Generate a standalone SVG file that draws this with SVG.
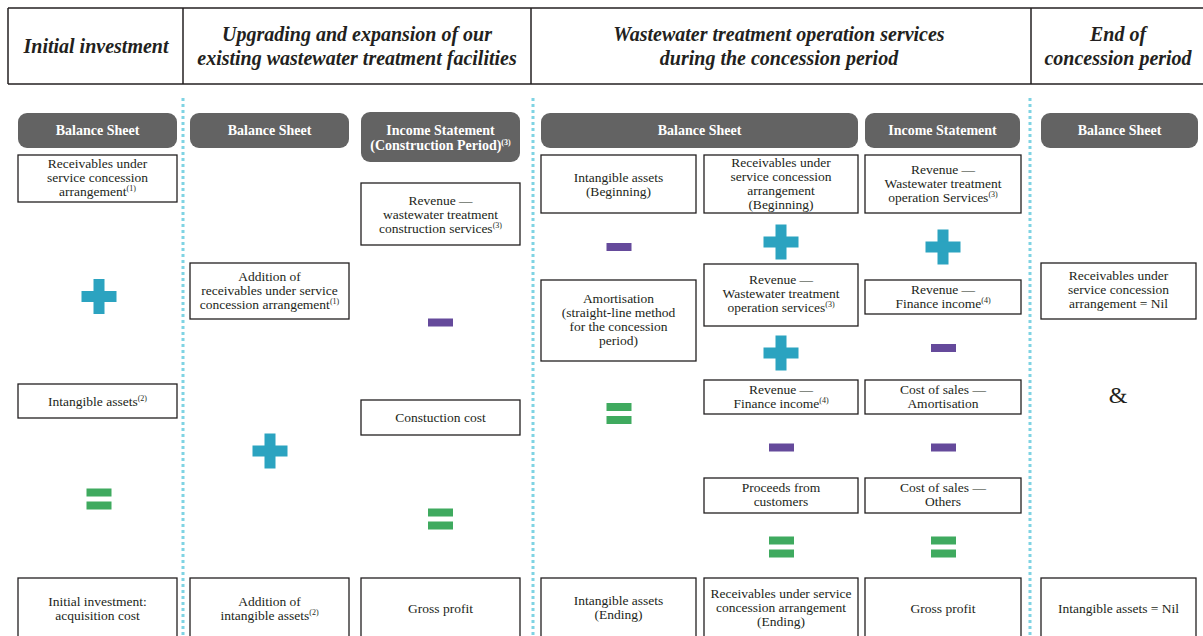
<svg xmlns="http://www.w3.org/2000/svg" width="1203" height="636" viewBox="0 0 1203 636">
<defs>
<style>
.hdr{font-family:"Liberation Serif","Times New Roman",serif;font-weight:bold;font-style:italic;font-size:20px;fill:#231f20;text-anchor:middle}
.pill{fill:#636363}
.pt{font-family:"Liberation Serif","Times New Roman",serif;font-weight:bold;font-size:14px;fill:#fff;text-anchor:middle}
.box{fill:#fff;stroke:#231f20;stroke-width:1.3}
.t{font-family:"Liberation Serif","Times New Roman",serif;font-size:13.5px;fill:#231f20;text-anchor:middle}
.sup{font-size:8px}
.div{stroke:#7fd3e3;stroke-width:3;stroke-dasharray:3 3}
.plus{fill:#2ba3c0}
.minus{fill:#654a9b}
.eq{fill:#3faa5f}
.frame{stroke:#231f20;stroke-width:1.5;fill:none}
</style>
<g id="plusSym"><rect class="plus" x="-5.5" y="-17.5" width="11" height="35"/><rect class="plus" x="-17.5" y="-5.5" width="35" height="11"/></g>
<rect id="minusSym" class="minus" x="-12.5" y="-4" width="25" height="8"/>
<g id="eqSym"><rect class="eq" x="-12.5" y="-10.5" width="25" height="8"/><rect class="eq" x="-12.5" y="2.5" width="25" height="8"/></g>
</defs>
<rect width="1203" height="636" fill="#fff"/>

<g id="header">
<line class="frame" x1="8" y1="8" x2="1203" y2="8"/>
<line class="frame" x1="8" y1="84" x2="1203" y2="84"/>
<line class="frame" x1="8" y1="8" x2="8" y2="84"/>
<line class="frame" x1="183" y1="8" x2="183" y2="84"/>
<line class="frame" x1="531" y1="8" x2="531" y2="84"/>
<line class="frame" x1="1031" y1="8" x2="1031" y2="84"/>
<text class="hdr" x="96" y="53">Initial investment</text>
<text class="hdr" x="357" y="41">Upgrading and expansion of our</text>
<text class="hdr" x="357" y="65">existing wastewater treatment facilities</text>
<text class="hdr" x="779" y="41">Wastewater treatment operation services</text>
<text class="hdr" x="779" y="65">during the concession period</text>
<text class="hdr" x="1118" y="41">End of</text>
<text class="hdr" x="1118" y="65">concession period</text>
</g>

<g id="connectors">
<line class="div" x1="183" y1="98" x2="183" y2="636"/>
<line class="div" x1="533" y1="98" x2="533" y2="636"/>
<line class="div" x1="1030" y1="98" x2="1030" y2="636"/>
</g>

<g id="pills">
<g id="p1"><rect class="pill" x="18" y="113" width="159" height="35" rx="9"/><text class="pt" x="97.5" y="135">Balance Sheet</text></g>
<g id="p2"><rect class="pill" x="190" y="113" width="159" height="35" rx="9"/><text class="pt" x="269.5" y="135">Balance Sheet</text></g>
<g id="p3"><rect class="pill" x="361" y="112" width="159" height="50" rx="9"/><text class="pt" x="440.5" y="135">Income Statement</text><text class="pt" x="440.5" y="150">(Construction Period)<tspan class="sup" dy="-5">(3)</tspan></text></g>
<g id="p4"><rect class="pill" x="541" y="113" width="317" height="35" rx="9"/><text class="pt" x="699.5" y="135">Balance Sheet</text></g>
<g id="p5"><rect class="pill" x="865" y="113" width="155" height="35" rx="9"/><text class="pt" x="942.5" y="135">Income Statement</text></g>
<g id="p6"><rect class="pill" x="1041" y="113" width="157" height="35" rx="9"/><text class="pt" x="1119.5" y="135">Balance Sheet</text></g>
</g>

<g id="col1">
<g id="n1a"><rect class="box" x="18" y="155" width="159" height="47"/><text class="t" x="97.5" y="168">Receivables under</text><text class="t" x="97.5" y="182">service concession</text><text class="t" x="97.5" y="196">arrangement<tspan class="sup" dy="-5">(1)</tspan></text></g>
<use href="#plusSym" x="99" y="296.5"/>
<g id="n1b"><rect class="box" x="18" y="384" width="159" height="34"/><text class="t" x="97.5" y="406">Intangible assets<tspan class="sup" dy="-5">(2)</tspan></text></g>
<use href="#eqSym" x="99" y="499"/>
<g id="n1c"><rect class="box" x="18" y="578" width="159" height="70"/><text class="t" x="97.5" y="606">Initial investment:</text><text class="t" x="97.5" y="620">acquisition cost</text></g>
</g>

<g id="col2">
<g id="n2a"><rect class="box" x="190" y="263" width="159" height="56"/><text class="t" x="269.5" y="281">Addition of</text><text class="t" x="269.5" y="295">receivables under service</text><text class="t" x="269.5" y="309">concession arrangement<tspan class="sup" dy="-5">(1)</tspan></text></g>
<use href="#plusSym" x="270" y="451"/>
<g id="n2b"><rect class="box" x="190" y="578" width="159" height="70"/><text class="t" x="269.5" y="606">Addition of</text><text class="t" x="269.5" y="620">intangible assets<tspan class="sup" dy="-5">(2)</tspan></text></g>
</g>

<g id="col3">
<g id="n3a"><rect class="box" x="361" y="183" width="159" height="62"/><text class="t" x="440.5" y="205">Revenue —</text><text class="t" x="440.5" y="219">wastewater treatment</text><text class="t" x="440.5" y="233">construction services<tspan class="sup" dy="-5">(3)</tspan></text></g>
<use href="#minusSym" x="440.5" y="322.5"/>
<g id="n3b"><rect class="box" x="361" y="400" width="159" height="35"/><text class="t" x="440.5" y="422">Constuction cost</text></g>
<use href="#eqSym" x="440.5" y="519"/>
<g id="n3c"><rect class="box" x="361" y="578" width="159" height="70"/><text class="t" x="440.5" y="613">Gross profit</text></g>
</g>

<g id="col4a">
<g id="n4a1"><rect class="box" x="541" y="155" width="155" height="58"/><text class="t" x="618.5" y="182">Intangible assets</text><text class="t" x="618.5" y="196">(Beginning)</text></g>
<use href="#minusSym" x="619" y="247"/>
<g id="n4a2"><rect class="box" x="541" y="280" width="155" height="81"/><text class="t" x="618.5" y="303">Amortisation</text><text class="t" x="618.5" y="317">(straight-line method</text><text class="t" x="618.5" y="331">for the concession</text><text class="t" x="618.5" y="345">period)</text></g>
<use href="#eqSym" x="619" y="413.5"/>
<g id="n4a3"><rect class="box" x="541" y="578" width="155" height="70"/><text class="t" x="618.5" y="605">Intangible assets</text><text class="t" x="618.5" y="619">(Ending)</text></g>
</g>

<g id="col4b">
<g id="n4b1"><rect class="box" x="704" y="155" width="154" height="58"/><text class="t" x="781" y="167">Receivables under</text><text class="t" x="781" y="181">service concession</text><text class="t" x="781" y="195">arrangement</text><text class="t" x="781" y="209">(Beginning)</text></g>
<use href="#plusSym" x="781" y="242"/>
<g id="n4b2"><rect class="box" x="704" y="264" width="154" height="62"/><text class="t" x="781" y="284">Revenue —</text><text class="t" x="781" y="298">Wastewater treatment</text><text class="t" x="781" y="312">operation services<tspan class="sup" dy="-5">(3)</tspan></text></g>
<use href="#plusSym" x="781" y="353"/>
<g id="n4b3"><rect class="box" x="704" y="380" width="154" height="34"/><text class="t" x="781" y="394">Revenue —</text><text class="t" x="781" y="408">Finance income<tspan class="sup" dy="-5">(4)</tspan></text></g>
<use href="#minusSym" x="781.5" y="447.5"/>
<g id="n4b4"><rect class="box" x="704" y="478" width="154" height="35"/><text class="t" x="781" y="492">Proceeds from</text><text class="t" x="781" y="506">customers</text></g>
<use href="#eqSym" x="781.5" y="547"/>
<g id="n4b5"><rect class="box" x="704" y="578" width="154" height="70"/><text class="t" x="781" y="598">Receivables under service</text><text class="t" x="781" y="612">concession arrangement</text><text class="t" x="781" y="626">(Ending)</text></g>
</g>

<g id="col4c">
<g id="n4c1"><rect class="box" x="865" y="155" width="156" height="58"/><text class="t" x="943" y="174">Revenue —</text><text class="t" x="943" y="188">Wastewater treatment</text><text class="t" x="943" y="202">operation Services<tspan class="sup" dy="-5">(3)</tspan></text></g>
<use href="#plusSym" x="943" y="247"/>
<g id="n4c2"><rect class="box" x="865" y="280" width="156" height="34"/><text class="t" x="943" y="294">Revenue —</text><text class="t" x="943" y="308">Finance income<tspan class="sup" dy="-5">(4)</tspan></text></g>
<use href="#minusSym" x="943.5" y="348"/>
<g id="n4c3"><rect class="box" x="865" y="380" width="156" height="34"/><text class="t" x="943" y="394">Cost of sales —</text><text class="t" x="943" y="408">Amortisation</text></g>
<use href="#minusSym" x="943.5" y="447.5"/>
<g id="n4c4"><rect class="box" x="865" y="478" width="156" height="35"/><text class="t" x="943" y="492">Cost of sales —</text><text class="t" x="943" y="506">Others</text></g>
<use href="#eqSym" x="943.5" y="547"/>
<g id="n4c5"><rect class="box" x="865" y="578" width="156" height="70"/><text class="t" x="943" y="613">Gross profit</text></g>
</g>

<g id="col5">
<g id="n5a"><rect class="box" x="1041" y="263" width="155" height="56"/><text class="t" x="1118.5" y="280">Receivables under</text><text class="t" x="1118.5" y="294">service concession</text><text class="t" x="1118.5" y="308">arrangement = Nil</text></g>
<text id="amp" x="1118" y="403" style="font-family:'Liberation Serif','Times New Roman',serif;font-size:24px;fill:#231f20;text-anchor:middle">&amp;</text>
<g id="n5b"><rect class="box" x="1041" y="578" width="155" height="70"/><text class="t" x="1118.5" y="613">Intangible assets = Nil</text></g>
</g>
</svg>
